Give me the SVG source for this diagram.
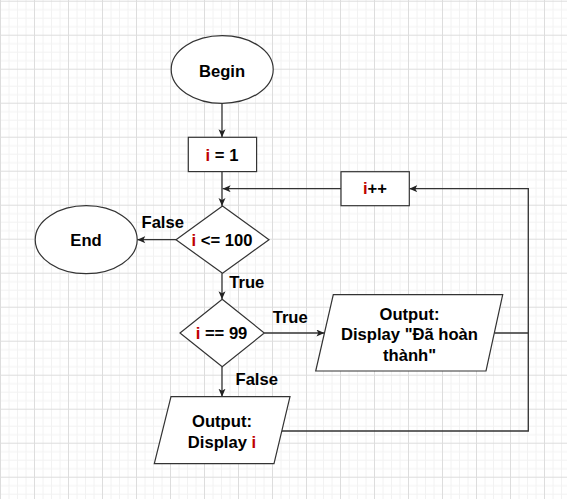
<svg xmlns="http://www.w3.org/2000/svg" width="567" height="499" viewBox="0 0 567 499">
<defs>
<pattern id="grid" width="34" height="34" patternUnits="userSpaceOnUse" x="0" y="0.7">
<path d="M9 0V34M17.5 0V34M26 0V34M0 9H34M0 17.5H34M0 26H34" stroke="#f2f2f2" stroke-width="1" fill="none"/>
<path d="M0.5 0V34M0 0.5H34" stroke="#dddddd" stroke-width="1" fill="none"/>
</pattern>
<marker id="arr" markerUnits="userSpaceOnUse" markerWidth="9" markerHeight="8" refX="8" refY="3.5" orient="auto">
<path d="M0,0 L8,3.5 L0,7 L2,3.5 Z" fill="#222"/>
</marker>
</defs>
<style>
.node{fill:#fff;stroke:#333;stroke-width:1.2}
.lbl{font-family:"Liberation Sans",Arial,sans-serif;font-size:16.6px;font-weight:bold;fill:#000;text-anchor:middle}
.st{text-anchor:start}
.v{fill:#c00000}
.edge{fill:none;stroke:#333;stroke-width:1.3}
.arrow{marker-end:url(#arr)}
</style>
<rect x="0" y="0" width="567" height="499" fill="#fff"/>
<rect x="0" y="0" width="567" height="499" fill="url(#grid)"/>

<g id="connectors">
<path class="edge arrow" d="M222 103.3V137.3"/>
<path class="edge arrow" d="M222 171.7V206"/>
<path class="edge arrow" d="M341 188.7H222.6"/>
<path class="edge arrow" d="M176 239.7H137.3"/>
<path class="edge arrow" d="M222 273.3V299.3"/>
<path class="edge arrow" d="M264.3 333H324.4"/>
<path class="edge arrow" d="M222 366.7V396.7"/>
<path class="edge" d="M494.3 333H528.3"/>
<path class="edge arrow" d="M281.4 431H528.3V188.7H409.3"/>
<text class="lbl st" x="141.5" y="227.7">False</text>
<text class="lbl st" x="229.3" y="288.3">True</text>
<text class="lbl st" x="272.7" y="322.7">True</text>
<text class="lbl st" x="235.5" y="385">False</text>
</g>

<g id="begin">
<ellipse class="node" cx="222.2" cy="69.5" rx="51" ry="33.8"/>
<text class="lbl" x="222" y="77">Begin</text>
</g>

<g id="init">
<rect class="node" x="188.3" y="137.3" width="68.3" height="34.3"/>
<text class="lbl" x="222" y="160.5"><tspan class="v">i</tspan> = 1</text>
</g>

<g id="inc">
<rect class="node" x="341" y="171.7" width="68.3" height="34"/>
<text class="lbl" x="375" y="194"><tspan class="v">i</tspan>++</text>
</g>

<g id="cond1">
<polygon class="node" points="222.5,206 269,239.7 222.5,273.3 176,239.7"/>
<text class="lbl" x="222" y="245.5"><tspan class="v">i</tspan> &lt;= 100</text>
</g>

<g id="end">
<ellipse class="node" cx="86.2" cy="239.7" rx="51" ry="34"/>
<text class="lbl" x="86" y="246">End</text>
</g>

<g id="cond2">
<polygon class="node" points="222.2,299.3 264.3,333 222.2,366.7 180,333"/>
<text class="lbl" x="221.5" y="339"><tspan class="v">i</tspan> == 99</text>
</g>

<g id="out-done">
<polygon class="node" points="333.3,294.7 502.7,294.7 486,371 315.7,371"/>
<text class="lbl" x="409.5" y="319.5">Output:</text>
<text class="lbl" x="409.5" y="340">Display "Đã hoàn</text>
<text class="lbl" x="409.5" y="360.5">thành"</text>
</g>

<g id="out-i">
<polygon class="node" points="171,396.7 290,396.7 274,463.7 154.3,463.7"/>
<text class="lbl" x="222" y="426.7">Output:</text>
<text class="lbl" x="222" y="447.7">Display <tspan class="v">i</tspan></text>
</g>
</svg>
